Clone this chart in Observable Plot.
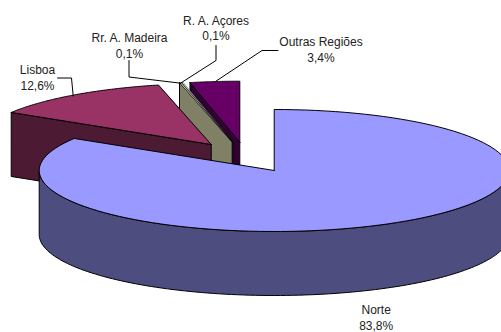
<!DOCTYPE html>
<html>
<head>
<meta charset="utf-8">
<script src="https://cdn.jsdelivr.net/npm/d3@7"></script>
<script src="https://cdn.jsdelivr.net/npm/@observablehq/plot@0.6"></script>
<style>
  html, body { margin: 0; padding: 0; background: #fff; }
  svg { display: block; }
</style>
</head>
<body>
<script>
// Regional shares, in percent, clockwise from twelve o'clock
const regions = ["Norte", "Lisboa", "Rr. A. Madeira", "R. A. Açores", "Outras Regiões"];
const shares = [83.8, 12.6, 0.1, 0.1, 3.4];
const shareLabels = ["83,8%", "12,6%", "0,1%", "0,1%", "3,4%"];

// Tilted pie geometry, in chart units
const rx = 235, ry = 61, depth = 64;
const topColors = ["#9999FF", "#993366", "#FFFFCC", "#CCFFFF", "#660066"];
const sideColors = ["#4D4D80", "#4D1A33", "#808066", "#666680", "#330033"];
const centers = [[273.7, 170], [210.7, 144], [231.7, 141.5], [232.4, 141.5], [239.3, 141.7]];

// Label anchor and leader polyline for each slice
const labelAt = [[375.7, 310], [37, 70], [129, 38], [215.5, 20.5], [320.5, 42]];
const leaders = [
  [],
  [[57, 77.5], [71, 77.5], [72.7, 95.5]],
  [[128.5, 60], [128.5, 76.5], [180, 82.7]],
  [[215.5, 45], [215.5, 60], [180, 82.7]],
  [[277.5, 50], [261.5, 50], [215, 81]]
];

let acc = 0;
const slices = shares.map((s, i) => {
  const a0 = (acc / 100) * 2 * Math.PI;
  acc += s;
  const a1 = (acc / 100) * 2 * Math.PI;
  const [cx, cy] = centers[i];
  const rim = (a, dy = 0) => ({x: cx + rx * Math.sin(a), y: cy - ry * Math.cos(a) + dy});
  const arc = (from, to, dy = 0) => d3.range(0, 121).map((k) => rim(from + (to - from) * k / 120, dy));
  return {i, a0, a1, cx, cy, rim, arc};
});

const apex = (s, dy = 0) => ({x: s.cx, y: s.cy + dy});
const shape = (points, fill, strokeWidth = 1) =>
  Plot.line([...points, points[0]], {
    x: "x", y: "y", fill, stroke: "#000", strokeWidth, strokeLinejoin: "round"
  });

// Back-to-front drawing order: the narrow slices, then Lisboa, then Norte.
// The two thinnest slices get a finer outline so their fill stays visible.
const marks = [];
for (const i of [4, 3, 2, 1]) {
  const s = slices[i];
  marks.push(shape([s.rim(s.a0), apex(s), apex(s, depth), s.rim(s.a0, depth)], sideColors[i]));
  marks.push(shape([apex(s), ...s.arc(s.a0, s.a1)], topColors[i], shares[i] < 1 ? 0.4 : 1));
}
const north = slices[0];
marks.push(shape([...north.arc(Math.PI / 2, 3 * Math.PI / 2), ...north.arc(3 * Math.PI / 2, Math.PI / 2, depth)], sideColors[0]));
marks.push(shape([apex(north), ...north.arc(north.a0, north.a1)], topColors[0]));

// Leaders
leaders.forEach((pts) => {
  if (pts.length) marks.push(Plot.line(pts.map(([x, y]) => ({x, y})), {x: "x", y: "y", stroke: "#000", strokeWidth: 1}));
});

// Labels: region name over its share
const labels = regions.map((name, i) => ({name, share: shareLabels[i], x: labelAt[i][0], y: labelAt[i][1]}));
const textStyle = {x: "x", y: "y", fontFamily: "Liberation Sans, Arial, sans-serif", fontSize: 12, fill: "#222", textAnchor: "middle", lineAnchor: "middle"};
marks.push(Plot.text(labels, {...textStyle, text: "name"}));
marks.push(Plot.text(labels, {...textStyle, text: "share", dy: 15.5}));

document.body.append(Plot.plot({
  width: 501,
  height: 332,
  margin: 0,
  x: {domain: [0, 501], range: [0, 501], axis: null},
  y: {domain: [0, 332], range: [0, 332], axis: null},
  style: {background: "#fff", overflow: "hidden"},
  marks
}));
</script>
</body>
</html>
